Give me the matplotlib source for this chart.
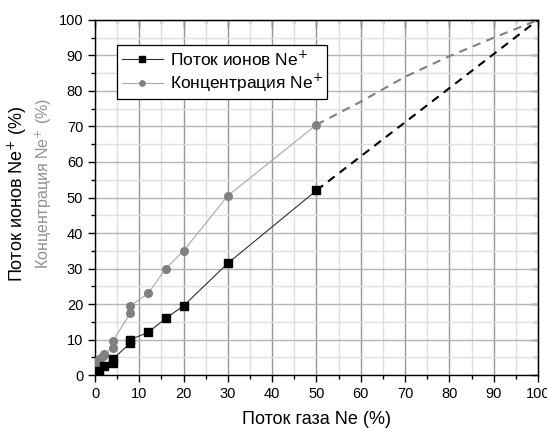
import matplotlib
matplotlib.use("Agg")
import matplotlib.pyplot as plt
from matplotlib.ticker import MultipleLocator

plt.rcParams['font.family'] = ['Liberation Sans', 'DejaVu Sans']

# Ion flux Ne+ (black squares)
flux_x = [0.5, 1, 2, 4, 4, 8, 8, 12, 16, 20, 30, 50]
flux_y = [0.5, 1.2, 2.5, 3.5, 4.5, 9.0, 10.0, 12.0, 16.0, 19.5, 31.5, 52.0]
flux_ext_x = [50, 100]
flux_ext_y = [52.0, 100.0]

# Concentration Ne+ (gray circles)
conc_x = [0.3, 0.5, 1, 1, 1.5, 2, 2, 4, 4, 8, 8, 12, 16, 20, 30, 50]
conc_y = [1.0, 2.5, 4.0, 4.5, 5.0, 5.5, 6.0, 7.5, 9.5, 17.5, 19.5, 23.0, 30.0, 35.0, 50.5, 70.5]
conc_ext_x = [50, 60, 70, 80, 90, 100]
conc_ext_y = [70.5, 77.0, 84.0, 89.8, 95.0, 100.0]

fig = plt.figure(figsize=(5.47, 4.28), dpi=100)
ax = fig.add_axes([0.1737, 0.1238, 0.8098, 0.8295])

ax.plot(conc_x, conc_y, '-', color='#a8a8a8', lw=0.8, marker='o', ms=5.5,
        mfc='#808080', mec='#808080', label='Концентрация Ne$^{+}$', zorder=3)
ax.plot(conc_ext_x, conc_ext_y, '--', color='#808080', lw=1.5, dashes=(4, 3), zorder=2)
ax.plot(flux_x, flux_y, '-', color='#303030', lw=0.8, marker='s', ms=5.5,
        mfc='black', mec='black', label='Поток ионов Ne$^{+}$', zorder=4)
ax.plot(flux_ext_x, flux_ext_y, '--', color='black', lw=1.5, dashes=(4, 3), zorder=2)

ax.set_xlim(0, 100)
ax.set_ylim(0, 100)
ax.xaxis.set_major_locator(MultipleLocator(10))
ax.xaxis.set_minor_locator(MultipleLocator(5))
ax.yaxis.set_major_locator(MultipleLocator(10))
ax.yaxis.set_minor_locator(MultipleLocator(5))
ax.xaxis.grid(True, which='major', color='#989898', lw=1.0, zorder=0)
ax.yaxis.grid(True, which='major', color='#b4b4b4', lw=1.0, zorder=0)
ax.grid(which='minor', color='#e0e0e0', lw=1.0, zorder=0)
ax.set_axisbelow(True)

ax.tick_params(which='both', direction='out', labelsize=10.5, top=False, right=False)
ax.tick_params(which='major', length=5, width=1)
ax.tick_params(which='minor', length=3, width=1)
for s in ax.spines.values():
    s.set_linewidth(1.0)

# inward ticks on top and right
ax2 = ax.secondary_xaxis('top')
ax2.xaxis.set_major_locator(MultipleLocator(10))
ax2.xaxis.set_minor_locator(MultipleLocator(5))
ax2.tick_params(which='both', direction='in', labeltop=False)
ax2.tick_params(which='major', length=5, width=1)
ax2.tick_params(which='minor', length=3, width=1)
ay2 = ax.secondary_yaxis('right')
ay2.yaxis.set_major_locator(MultipleLocator(10))
ay2.yaxis.set_minor_locator(MultipleLocator(5))
ay2.tick_params(which='both', direction='in', labelright=False)
ay2.tick_params(which='major', length=5, width=1)
ay2.tick_params(which='minor', length=3, width=1)

ax.set_xlabel('Поток газа Ne (%)', fontsize=13, labelpad=7)

fig.text(0.031, 0.547, 'Поток ионов Ne$^{+}$ (%)', rotation=90, ha='center', va='center',
         fontsize=13, color='black')
fig.text(0.081, 0.572, 'Концентрация Ne$^{+}$ (%)', rotation=90, ha='center', va='center',
         fontsize=11.5, color='#909090')

h, l = ax.get_legend_handles_labels()
leg = ax.legend(h[::-1], l[::-1], loc='upper left', bbox_to_anchor=(0.05, 0.93),
                fontsize=12.5, frameon=True, fancybox=False, edgecolor='black',
                framealpha=1, borderpad=0.25, handlelength=2.4, handletextpad=0.4,
                labelspacing=0.2, markerscale=0.7, borderaxespad=0)
leg.get_frame().set_linewidth(0.9)

fig.savefig('out.png', dpi=100)
